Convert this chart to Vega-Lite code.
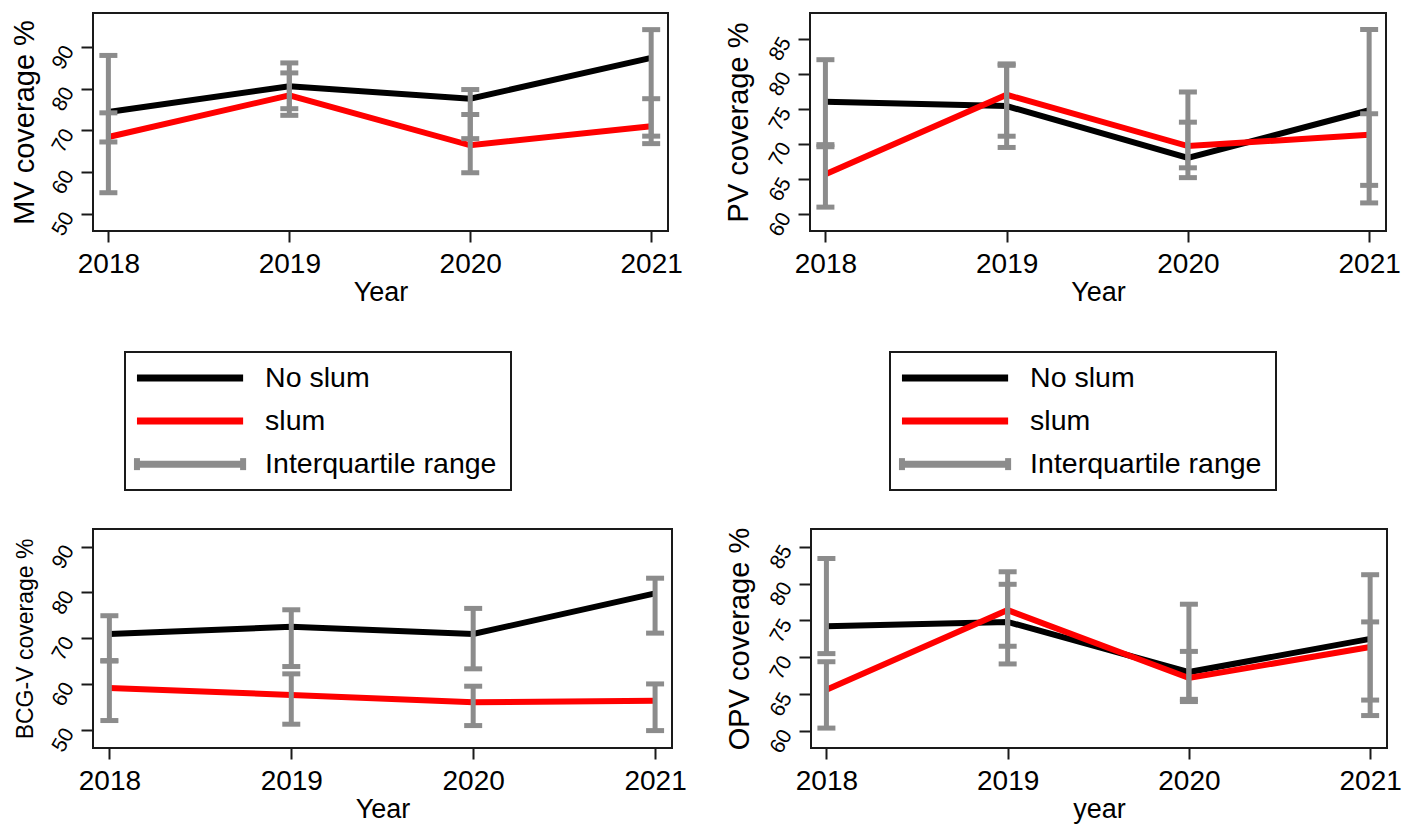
{
  "$schema": "https://vega.github.io/schema/vega-lite/v6.json",
  "background": "white",
  "padding": {"left": 9, "top": 12, "right": 5, "bottom": 2},
  "datasets": {
    "cov": [
      {"vaccine": "MV", "year": 2018, "series": "No slum", "coverage": 74.4, "q1": 67.2, "q3": 88.0},
      {"vaccine": "MV", "year": 2019, "series": "No slum", "coverage": 80.6, "q1": 75.2, "q3": 86.2},
      {"vaccine": "MV", "year": 2020, "series": "No slum", "coverage": 77.6, "q1": 68.0, "q3": 79.8},
      {"vaccine": "MV", "year": 2021, "series": "No slum", "coverage": 87.4, "q1": 68.6, "q3": 94.2},
      {"vaccine": "MV", "year": 2018, "series": "slum", "coverage": 68.4, "q1": 55.0, "q3": 74.2},
      {"vaccine": "MV", "year": 2019, "series": "slum", "coverage": 78.4, "q1": 73.6, "q3": 83.8},
      {"vaccine": "MV", "year": 2020, "series": "slum", "coverage": 66.4, "q1": 59.8, "q3": 73.8},
      {"vaccine": "MV", "year": 2021, "series": "slum", "coverage": 71.0, "q1": 66.8, "q3": 77.6},
      {"vaccine": "PV", "year": 2018, "series": "No slum", "coverage": 76.0, "q1": 69.6, "q3": 82.0},
      {"vaccine": "PV", "year": 2019, "series": "No slum", "coverage": 75.4, "q1": 71.1, "q3": 81.4},
      {"vaccine": "PV", "year": 2020, "series": "No slum", "coverage": 68.0, "q1": 65.2, "q3": 73.1},
      {"vaccine": "PV", "year": 2021, "series": "No slum", "coverage": 74.8, "q1": 61.6, "q3": 86.3},
      {"vaccine": "PV", "year": 2018, "series": "slum", "coverage": 65.7, "q1": 61.0, "q3": 69.9},
      {"vaccine": "PV", "year": 2019, "series": "slum", "coverage": 77.0, "q1": 69.5, "q3": 81.2},
      {"vaccine": "PV", "year": 2020, "series": "slum", "coverage": 69.7, "q1": 66.6, "q3": 77.4},
      {"vaccine": "PV", "year": 2021, "series": "slum", "coverage": 71.3, "q1": 64.1, "q3": 74.3},
      {"vaccine": "BCG", "year": 2018, "series": "No slum", "coverage": 70.9, "q1": 65.1, "q3": 74.9},
      {"vaccine": "BCG", "year": 2019, "series": "No slum", "coverage": 72.5, "q1": 63.8, "q3": 76.2},
      {"vaccine": "BCG", "year": 2020, "series": "No slum", "coverage": 70.9, "q1": 63.3, "q3": 76.5},
      {"vaccine": "BCG", "year": 2021, "series": "No slum", "coverage": 79.8, "q1": 71.1, "q3": 83.1},
      {"vaccine": "BCG", "year": 2018, "series": "slum", "coverage": 59.1, "q1": 52.0, "q3": 65.0},
      {"vaccine": "BCG", "year": 2019, "series": "slum", "coverage": 57.6, "q1": 51.2, "q3": 62.2},
      {"vaccine": "BCG", "year": 2020, "series": "slum", "coverage": 56.0, "q1": 50.9, "q3": 59.5},
      {"vaccine": "BCG", "year": 2021, "series": "slum", "coverage": 56.3, "q1": 49.8, "q3": 60.0},
      {"vaccine": "OPV", "year": 2018, "series": "No slum", "coverage": 74.2, "q1": 70.5, "q3": 83.4},
      {"vaccine": "OPV", "year": 2019, "series": "No slum", "coverage": 74.8, "q1": 71.5, "q3": 79.9},
      {"vaccine": "OPV", "year": 2020, "series": "No slum", "coverage": 68.0, "q1": 64.3, "q3": 77.2},
      {"vaccine": "OPV", "year": 2021, "series": "No slum", "coverage": 72.5, "q1": 64.2, "q3": 81.2},
      {"vaccine": "OPV", "year": 2018, "series": "slum", "coverage": 65.6, "q1": 60.4, "q3": 69.4},
      {"vaccine": "OPV", "year": 2019, "series": "slum", "coverage": 76.4, "q1": 69.1, "q3": 81.6},
      {"vaccine": "OPV", "year": 2020, "series": "slum", "coverage": 67.2, "q1": 64.0, "q3": 70.8},
      {"vaccine": "OPV", "year": 2021, "series": "slum", "coverage": 71.4, "q1": 62.1, "q3": 74.8}
    ],
    "leg": [
      {"series": "No slum"},
      {"series": "slum"},
      {"series": "Interquartile range"}
    ]
  },
  "resolve": {"scale": {"color": "independent", "stroke": "independent"}},
  "spacing": 35,
  "vconcat": [
    {
      "spacing": 45,
      "resolve": {"scale": {"color": "independent", "stroke": "independent"}},
      "vconcat": [
        {
          "spacing": 39,
          "hconcat": [
            {
              "width": 575, "height": 218,
              "data": {"name": "cov"},
              "transform": [{"filter": "datum.vaccine === 'MV'"}],
              "encoding": {"x": {"field": "year", "type": "quantitative", "title": "Year", "scale": {"domain": [2017.915, 2021.093], "nice": false, "zero": false}, "axis": {"values": [2018, 2019, 2020, 2021], "format": "d"}}},
              "layer": [
                {"mark": {"type": "line", "strokeWidth": 6}, "encoding": {"y": {"field": "coverage", "type": "quantitative", "title": "MV coverage %", "scale": {"domain": [45.8, 98.2], "nice": false, "zero": false}, "axis": {"values": [50, 60, 70, 80, 90], "titleFontSize": 29, "labelFontSize": 21, "titlePadding": 8}}, "color": {"field": "series", "type": "nominal", "scale": {"domain": ["No slum", "slum"], "range": ["#000000", "#ff0000"]}, "legend": null}}},
                {"mark": {"type": "rule", "color": "#8c8c8c", "strokeWidth": 5}, "encoding": {"y": {"field": "q1", "type": "quantitative", "title": "MV coverage %"}, "y2": {"field": "q3"}}},
                {"mark": {"type": "tick", "orient": "horizontal", "color": "#8c8c8c", "size": 18, "thickness": 5, "opacity": 1}, "encoding": {"y": {"field": "q1", "type": "quantitative", "title": "MV coverage %"}}},
                {"mark": {"type": "tick", "orient": "horizontal", "color": "#8c8c8c", "size": 18, "thickness": 5, "opacity": 1}, "encoding": {"y": {"field": "q3", "type": "quantitative", "title": "MV coverage %"}}}
              ]
            },
            {
              "width": 576, "height": 218,
              "data": {"name": "cov"},
              "transform": [{"filter": "datum.vaccine === 'PV'"}],
              "encoding": {"x": {"field": "year", "type": "quantitative", "title": "Year", "scale": {"domain": [2017.915, 2021.093], "nice": false, "zero": false}, "axis": {"values": [2018, 2019, 2020, 2021], "format": "d"}}},
              "layer": [
                {"mark": {"type": "line", "strokeWidth": 6}, "encoding": {"y": {"field": "coverage", "type": "quantitative", "title": "PV coverage %", "scale": {"domain": [57.6, 88.65], "nice": false, "zero": false}, "axis": {"values": [60, 65, 70, 75, 80, 85], "titleFontSize": 29, "labelFontSize": 21, "titlePadding": 11}}, "color": {"field": "series", "type": "nominal", "scale": {"domain": ["No slum", "slum"], "range": ["#000000", "#ff0000"]}, "legend": null}}},
                {"mark": {"type": "rule", "color": "#8c8c8c", "strokeWidth": 5}, "encoding": {"y": {"field": "q1", "type": "quantitative", "title": "PV coverage %"}, "y2": {"field": "q3"}}},
                {"mark": {"type": "tick", "orient": "horizontal", "color": "#8c8c8c", "size": 18, "thickness": 5, "opacity": 1}, "encoding": {"y": {"field": "q1", "type": "quantitative", "title": "PV coverage %"}}},
                {"mark": {"type": "tick", "orient": "horizontal", "color": "#8c8c8c", "size": 18, "thickness": 5, "opacity": 1}, "encoding": {"y": {"field": "q3", "type": "quantitative", "title": "PV coverage %"}}}
              ]
            }
          ]
        },
        {
          "spacing": 377,
          "hconcat": [
            {
              "spacing": 0,
              "hconcat": [
                {
                  "width": 31, "height": 138,
                  "view": {"stroke": null, "fill": "white"},
                  "data": {"name": "leg"},
                  "mark": {"type": "text", "opacity": 0},
                  "encoding": {"text": {"value": ""}}
                },
                {
                  "width": 386, "height": 138,
                  "data": {"name": "leg"},
                  "encoding": {"y": {"field": "series", "type": "nominal", "sort": null, "scale": {"type": "point", "padding": 0.6}, "axis": null}},
                  "layer": [
                    {"mark": {"type": "rule", "strokeWidth": 7}, "encoding": {"x": {"datum": 3.1, "type": "quantitative", "scale": {"domain": [0, 100], "nice": false, "zero": false}, "axis": null}, "x2": {"datum": 30.6}, "stroke": {"field": "series", "type": "nominal", "scale": {"domain": ["No slum", "slum", "Interquartile range"], "range": ["#000000", "#ff0000", "#8c8c8c"]}, "legend": null}}},
                    {"transform": [{"filter": "datum.series === 'Interquartile range'"}], "mark": {"type": "tick", "orient": "vertical", "color": "#8c8c8c", "size": 12, "thickness": 6, "opacity": 1}, "encoding": {"x": {"datum": 3.1, "type": "quantitative"}}},
                    {"transform": [{"filter": "datum.series === 'Interquartile range'"}], "mark": {"type": "tick", "orient": "vertical", "color": "#8c8c8c", "size": 12, "thickness": 6, "opacity": 1}, "encoding": {"x": {"datum": 30.6, "type": "quantitative"}}},
                    {"mark": {"type": "text", "align": "left", "baseline": "middle", "fontSize": 28.5, "color": "#000000"}, "encoding": {"x": {"datum": 36.3, "type": "quantitative"}, "text": {"field": "series"}}}
                  ]
                }
              ]
            },
            {
              "width": 386, "height": 138,
              "data": {"name": "leg"},
              "encoding": {"y": {"field": "series", "type": "nominal", "sort": null, "scale": {"type": "point", "padding": 0.6}, "axis": null}},
              "layer": [
                {"mark": {"type": "rule", "strokeWidth": 7}, "encoding": {"x": {"datum": 3.1, "type": "quantitative", "scale": {"domain": [0, 100], "nice": false, "zero": false}, "axis": null}, "x2": {"datum": 30.6}, "stroke": {"field": "series", "type": "nominal", "scale": {"domain": ["No slum", "slum", "Interquartile range"], "range": ["#000000", "#ff0000", "#8c8c8c"]}, "legend": null}}},
                {"transform": [{"filter": "datum.series === 'Interquartile range'"}], "mark": {"type": "tick", "orient": "vertical", "color": "#8c8c8c", "size": 12, "thickness": 6, "opacity": 1}, "encoding": {"x": {"datum": 3.1, "type": "quantitative"}}},
                {"transform": [{"filter": "datum.series === 'Interquartile range'"}], "mark": {"type": "tick", "orient": "vertical", "color": "#8c8c8c", "size": 12, "thickness": 6, "opacity": 1}, "encoding": {"x": {"datum": 30.6, "type": "quantitative"}}},
                {"mark": {"type": "text", "align": "left", "baseline": "middle", "fontSize": 28.5, "color": "#000000"}, "encoding": {"x": {"datum": 36.3, "type": "quantitative"}, "text": {"field": "series"}}}
              ]
            }
          ]
        }
      ]
    },
    {
      "spacing": 36,
      "hconcat": [
        {
          "width": 579, "height": 219,
          "data": {"name": "cov"},
          "transform": [{"filter": "datum.vaccine === 'BCG'"}],
          "encoding": {"x": {"field": "year", "type": "quantitative", "title": "Year", "scale": {"domain": [2017.91, 2021.093], "nice": false, "zero": false}, "axis": {"values": [2018, 2019, 2020, 2021], "format": "d"}}},
          "layer": [
            {"mark": {"type": "line", "strokeWidth": 6}, "encoding": {"y": {"field": "coverage", "type": "quantitative", "title": "BCG-V coverage %", "scale": {"domain": [46.0, 93.85], "nice": false, "zero": false}, "axis": {"values": [50, 60, 70, 80, 90], "titleFontSize": 23, "labelFontSize": 21, "titlePadding": 10}}, "color": {"field": "series", "type": "nominal", "scale": {"domain": ["No slum", "slum"], "range": ["#000000", "#ff0000"]}, "legend": null}}},
            {"mark": {"type": "rule", "color": "#8c8c8c", "strokeWidth": 5}, "encoding": {"y": {"field": "q1", "type": "quantitative", "title": "BCG-V coverage %"}, "y2": {"field": "q3"}}},
            {"mark": {"type": "tick", "orient": "horizontal", "color": "#8c8c8c", "size": 18, "thickness": 5, "opacity": 1}, "encoding": {"y": {"field": "q1", "type": "quantitative", "title": "BCG-V coverage %"}}},
            {"mark": {"type": "tick", "orient": "horizontal", "color": "#8c8c8c", "size": 18, "thickness": 5, "opacity": 1}, "encoding": {"y": {"field": "q3", "type": "quantitative", "title": "BCG-V coverage %"}}}
          ]
        },
        {
          "width": 576, "height": 219,
          "data": {"name": "cov"},
          "transform": [{"filter": "datum.vaccine === 'OPV'"}],
          "encoding": {"x": {"field": "year", "type": "quantitative", "title": "year", "scale": {"domain": [2017.915, 2021.093], "nice": false, "zero": false}, "axis": {"values": [2018, 2019, 2020, 2021], "format": "d"}}},
          "layer": [
            {"mark": {"type": "line", "strokeWidth": 6}, "encoding": {"y": {"field": "coverage", "type": "quantitative", "title": "OPV coverage %", "scale": {"domain": [57.7, 87.4], "nice": false, "zero": false}, "axis": {"values": [60, 65, 70, 75, 80, 85], "titleFontSize": 29, "labelFontSize": 21, "titlePadding": 11}}, "color": {"field": "series", "type": "nominal", "scale": {"domain": ["No slum", "slum"], "range": ["#000000", "#ff0000"]}, "legend": null}}},
            {"mark": {"type": "rule", "color": "#8c8c8c", "strokeWidth": 5}, "encoding": {"y": {"field": "q1", "type": "quantitative", "title": "OPV coverage %"}, "y2": {"field": "q3"}}},
            {"mark": {"type": "tick", "orient": "horizontal", "color": "#8c8c8c", "size": 18, "thickness": 5, "opacity": 1}, "encoding": {"y": {"field": "q1", "type": "quantitative", "title": "OPV coverage %"}}},
            {"mark": {"type": "tick", "orient": "horizontal", "color": "#8c8c8c", "size": 18, "thickness": 5, "opacity": 1}, "encoding": {"y": {"field": "q3", "type": "quantitative", "title": "OPV coverage %"}}}
          ]
        }
      ]
    }
  ],
  "config": {
    "font": "Liberation Sans",
    "view": {"stroke": "#1a1a1a", "strokeWidth": 2},
    "axis": {"grid": false, "domain": false, "ticks": true, "tickColor": "#1a1a1a", "tickWidth": 2, "labelColor": "#000000", "titleColor": "#000000", "titleFontWeight": "normal", "labelFlush": false, "labelOverlap": false, "labelFont": "Liberation Sans", "titleFont": "Liberation Sans"},
    "axisX": {"labelFontSize": 28, "titleFontSize": 27, "tickSize": 11, "labelPadding": 8, "titlePadding": 1, "labelAngle": 0},
    "axisY": {"labelFontSize": 21, "labelAngle": -60, "labelAlign": "right", "labelBaseline": "middle", "tickSize": 12, "labelPadding": 12, "titleFontSize": 29}
  }
}
